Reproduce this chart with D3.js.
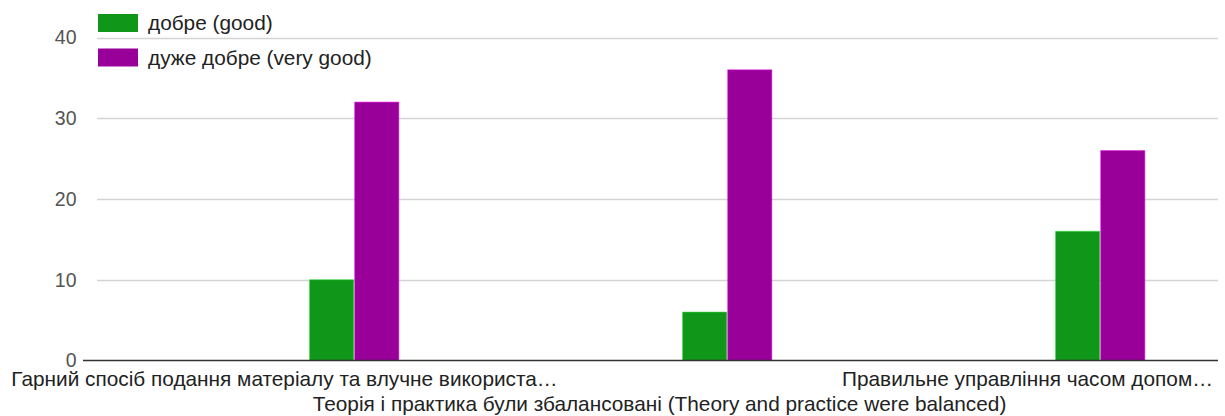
<!DOCTYPE html>
<html>
<head>
<meta charset="utf-8">
<script src="https://cdn.jsdelivr.net/npm/d3@7"></script>
<style>
  html, body { margin: 0; padding: 0; background: #fff; }
  svg { display: block; }
  text { font-family: "Liberation Sans", Arial, sans-serif; }
</style>
</head>
<body>
<svg id="chart" width="1225" height="416"></svg>
<script>
// ---- data ----
const categories = [
  "Гарний спосіб подання матеріалу та влучне використа…",
  "Теорія і практика були збалансовані (Theory and practice were balanced)",
  "Правильне управління часом допом…"
];
const seriesNames = ["добре (good)", "дуже добре (very good)"];
const seriesColors = ["#109618", "#990099"];
// slot of each series among the 5 answer levels of the form (first three levels have no answers)
const seriesSlots = [3, 4];
const slotCount = 5;
const goodValues = [10, 6, 16];
const veryGoodValues = [32, 36, 26];
const yTicks = [0, 10, 20, 30, 40];

const seriesValues = [goodValues, veryGoodValues];

const svg = d3.select("#chart");
const plotLeft = 100, plotRight = 1219, plotTop = 37.5, plotBottom = 360.5;

const x0 = d3.scaleBand().domain(d3.range(categories.length)).range([plotLeft, plotRight]).padding(0);
const groupFrac = 0.605;
const bw = x0.bandwidth();
const x1 = d3.scaleBand().domain(d3.range(slotCount))
  .range([bw * (1 - groupFrac) / 2, bw * (1 + groupFrac) / 2]).padding(0);
const y = d3.scaleLinear().domain([0, 40]).range([plotBottom, plotTop]);

// gridlines
const grid = svg.append("g").attr("class", "grid");
grid.selectAll("line").data(yTicks.filter(d => d > 0)).join("line")
  .attr("x1", 97).attr("x2", 1218)
  .attr("y1", d => Math.round(y(d)) + 0.5).attr("y2", d => Math.round(y(d)) + 0.5)
  .attr("stroke", "#d4d4d4").attr("stroke-width", 1.5);

// y axis labels
const yAxis = d3.axisLeft(y).tickValues(yTicks).tickSize(0).tickPadding(0).tickFormat(d3.format("d"));
const yg = svg.append("g").attr("transform", "translate(76.5,0)").call(yAxis);
yg.select(".domain").remove();
yg.selectAll("text").attr("font-size", 19.5).attr("fill", "#555").attr("font-family", "Liberation Sans, Arial, sans-serif");

// bars
const groups = svg.append("g").selectAll("g").data(categories).join("g")
  .attr("transform", (d, i) => `translate(${x0(i)},0)`);
seriesValues.forEach((vals, s) => {
  groups.append("rect")
    .attr("x", (d, i) => x1(seriesSlots[s]) + 0.5)
    .attr("width", x1.bandwidth() - 1)
    .attr("y", (d, i) => y(vals[i]))
    .attr("height", (d, i) => y(0) - y(vals[i]))
    .attr("fill", seriesColors[s])
    .attr("stroke", d3.color(seriesColors[s]).brighter(1.2))
    .attr("stroke-opacity", 0.5)
    .attr("stroke-width", 1);
});

// baseline
svg.append("line").attr("x1", 83).attr("x2", 1218)
  .attr("y1", y(0)).attr("y2", y(0))
  .attr("stroke", "#333").attr("stroke-width", 1.5);

// x axis labels
const xAxis = d3.axisBottom(x0).tickSize(0).tickFormat(i => categories[i]);
const xg = svg.append("g").attr("transform", `translate(0,${plotBottom})`).call(xAxis);
xg.select(".domain").remove();
xg.selectAll("text")
  .attr("font-size", 20.8).attr("fill", "#222").attr("font-family", "Liberation Sans, Arial, sans-serif")
  .attr("dy", null)
  .attr("y", (i) => i === 1 ? 50.5 : 25.5)
  .attr("text-anchor", (i) => i === 2 ? "end" : "middle")
  .attr("x", (i) => i === 2 ? (1213 - x0(i) - bw / 2) : (i === 0 ? -2 : 0));

// legend
const legend = svg.append("g").selectAll("g").data(seriesNames).join("g")
  .attr("transform", (d, i) => `translate(98,${14 + i * 34.5})`);
legend.append("rect").attr("width", 40).attr("height", 18)
  .attr("fill", (d, i) => seriesColors[i]);
legend.append("text").attr("x", 50).attr("y", 9).attr("dy", "0.35em")
  .attr("font-size", 20.8).attr("fill", "#222").text(d => d);
</script>
</body>
</html>
